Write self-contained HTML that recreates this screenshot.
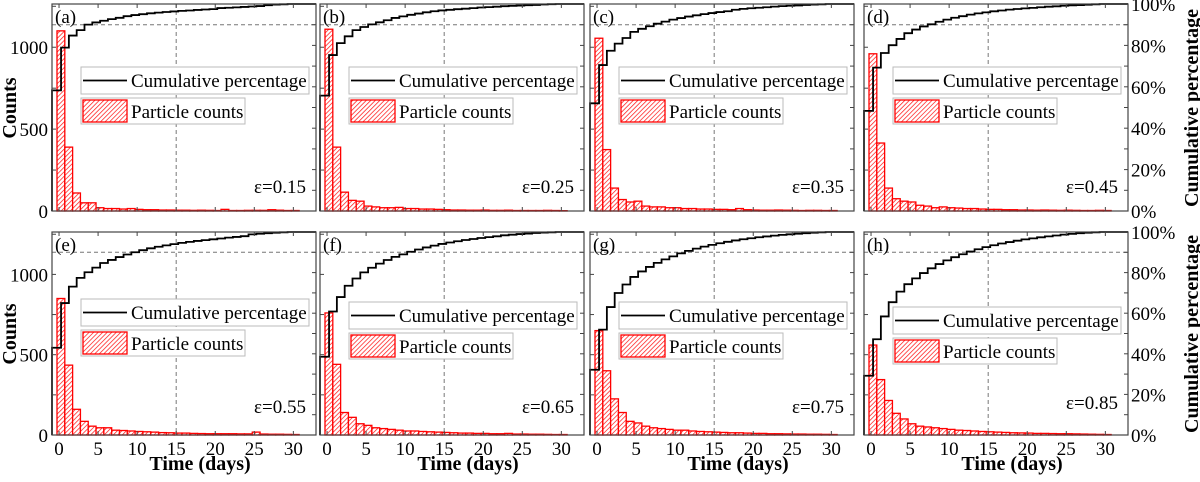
<!DOCTYPE html>
<html><head><meta charset="utf-8"><style>
body{margin:0;background:#fff}
svg text{font-family:"Liberation Serif",serif}
</style></head><body>
<svg id="fig" width="1200" height="477" viewBox="0 0 1200 477" xmlns="http://www.w3.org/2000/svg">
<defs>
<pattern id="hatch" patternUnits="userSpaceOnUse" width="3.2" height="3.2" patternTransform="rotate(45)">
<rect width="3.2" height="3.2" fill="#fff"/>
<line x1="0" y1="0" x2="0" y2="3.2" stroke="#ff2020" stroke-width="1.5"/>
</pattern>
</defs>
</svg>
<script>
const panelLabels = ["(a)","(b)","(c)","(d)","(e)","(f)","(g)","(h)"];
const epsLabels = ["ε=0.15","ε=0.25","ε=0.35","ε=0.45","ε=0.55","ε=0.65","ε=0.75","ε=0.85"];
const countsA = [1100,390,110,50,50,20,15,15,12,15,10,8,8,6,6,5,5,4,5,4,3,10,3,3,4,4,4,8,5,3,3];
const countsB = [1110,390,115,65,60,30,25,20,20,22,15,15,12,12,10,8,6,6,5,5,6,4,4,5,3,3,3,3,4,3,2];
const countsC = [1055,375,140,70,55,60,30,25,25,20,20,15,15,12,12,10,10,8,15,8,6,5,5,6,5,4,3,4,4,3,3];
const countsD = [960,415,140,75,60,55,35,30,20,25,20,18,15,15,12,10,10,8,8,6,6,5,6,5,4,5,4,3,3,4,3];
const countsE = [850,435,160,85,55,45,45,30,28,25,22,20,18,15,14,12,12,10,9,8,8,8,8,7,7,18,6,5,5,4,3];
const countsF = [760,440,140,110,70,60,45,40,35,30,25,25,22,20,18,16,14,12,12,10,10,8,8,10,6,6,5,5,4,3,3];
const countsG = [650,400,225,140,85,75,55,45,40,35,30,30,25,22,20,18,16,14,14,12,10,10,8,8,7,6,6,5,5,4,3];
const countsH = [560,345,215,135,100,70,55,50,45,40,35,30,28,25,22,20,18,16,14,13,12,10,10,9,8,8,7,6,5,4,3];
const xTicks = [0,5,10,15,20,25,30];
const countTicks = [0,500,1000];
const pctTicks = [0,20,40,60,80,100];
const allCounts = [countsA,countsB,countsC,countsD,countsE,countsF,countsG,countsH];

const NS="http://www.w3.org/2000/svg";
const svg=document.getElementById('fig');
function mk(tag,attrs,parent){const e=document.createElementNS(NS,tag);for(const k in attrs)e.setAttribute(k,attrs[k]);(parent||svg).appendChild(e);return e;}

const lefts=[52,320,590,864], W=264;
const rows=[{top:4,bot:211},{top:232,bot:435}];
const legY=[63,63,63,63,67,70,70,75];
const epsY=[189,189,189,189,181,181,181,177];
const X0=-0.9, X1=32.9, CMAX=1264;

for(let p=0;p<8;p++){
  const col=p%4,row=Math.floor(p/4);
  const L=lefts[col],R=L+W,T=rows[row].top,B=rows[row].bot,H=B-T;
  const sx=v=>L+(v-X0)/(X1-X0)*W;
  const sy=c=>B-c/CMAX*H;
  const sp=v=>B-v/100*H;
  const g=mk('g',{});
  
  
  const gv=mk('line',{x1:sx(15),x2:sx(15),y1:T,y2:B,stroke:'#777','stroke-dasharray':'4,3','stroke-width':1},g);
  
  const gh=mk('line',{x1:L,x2:R,y1:sp(90),y2:sp(90),stroke:'#777','stroke-dasharray':'4,3','stroke-width':1},g);
  
  const data=allCounts[p];
  const total=data.reduce((a,b)=>a+b,0);
  data.forEach((c,i)=>{
    const r=mk('rect',{x:sx(i-0.26),y:sy(c),width:sx(i+0.74)-sx(i-0.26),height:B-sy(c),fill:'url(#hatch)',stroke:'#ff0000','stroke-width':1.3},g);
    
  });
  let cum=0,d='M'+L+','+B;
  data.forEach((c,i)=>{
    cum+=c;const y=sp(cum/total*100);
    const xa=i===0?L:sx(i-0.74), xb=i===data.length-1?R:sx(i+0.26);
    d+=' L'+xa+','+y+' L'+xb+','+y;
  });
  const cl=mk('path',{d:d,fill:'none',stroke:'#000','stroke-width':1.8},g);
  
  const fr=mk('rect',{x:L,y:T,width:W,height:H,fill:'none',stroke:'#444','stroke-width':1.2},g);
  
  xTicks.forEach(v=>{
    mk('line',{x1:sx(v),x2:sx(v),y1:B,y2:B-4,stroke:'#444'},g);
    mk('line',{x1:sx(v),x2:sx(v),y1:T,y2:T+4,stroke:'#444'},g);
    if(row===1){const t=mk('text',{x:sx(v),y:B+20,'text-anchor':'middle','font-size':19},g);t.textContent=v;
      }
  });
  for(let c=0;c<=1250;c+=250){mk('line',{x1:L,x2:L+4,y1:sy(c),y2:sy(c),stroke:'#444'},g);}
  for(let v=0;v<=100;v+=10){mk('line',{x1:R,x2:R-4,y1:sp(v),y2:sp(v),stroke:'#444'},g);}
  if(col===0){countTicks.forEach(c=>{const t=mk('text',{x:L-4,y:sy(c)+7,'text-anchor':'end','font-size':19},g);t.textContent=c;
    });}
  if(col===3){pctTicks.forEach(v=>{const t=mk('text',{x:R+3,y:sp(v)+7,'font-size':19},g);t.textContent=v+'%';
    });}
  const pl=mk('text',{x:L+3,y:T+19,'font-size':19},g);pl.textContent=panelLabels[p];
  
  const el=mk('text',{x:L+254,y:T+epsY[p],'text-anchor':'end','font-size':19},g);el.textContent=epsLabels[p];
  
  const ly=T+legY[p];
  const lg=mk('g',{},g);
  
  mk('rect',{x:L+29,y:ly,width:228,height:27,fill:'#fff',stroke:'#bbb'},lg);
  const ln=mk('line',{x1:L+31,x2:L+75,y1:ly+13.5,y2:ly+13.5,stroke:'#000','stroke-width':1.8},lg);
  
  const t1=mk('text',{x:L+79,y:ly+20,'font-size':19},lg);t1.textContent='Cumulative percentage';
  mk('rect',{x:L+29,y:ly+31,width:164,height:26,fill:'#fff',stroke:'#bbb'},lg);
  const sw=mk('rect',{x:L+31,y:ly+33,width:44,height:22,fill:'url(#hatch)',stroke:'#ff0000','stroke-width':1.3},lg);
  
  const t2=mk('text',{x:L+79,y:ly+51,'font-size':19},lg);t2.textContent='Particle counts';
  if(row===1){const xt=mk('text',{x:L+W/2+16,y:470,'text-anchor':'middle','font-size':20,'font-weight':'bold'},g);xt.textContent='Time (days)';
    }
}
[[108],[334]].forEach((c,i)=>{
  const t=mk('text',{x:0,y:0,'text-anchor':'middle','font-size':20,'font-weight':'bold',transform:'translate(16,'+c[0]+') rotate(-90)'});
  t.textContent='Counts';
  const t2=mk('text',{x:0,y:0,'text-anchor':'middle','font-size':20,'font-weight':'bold',transform:'translate(1198,'+c[0]+') rotate(-90)'});
  t2.textContent='Cumulative percentage';
});
</script>
</body></html>
